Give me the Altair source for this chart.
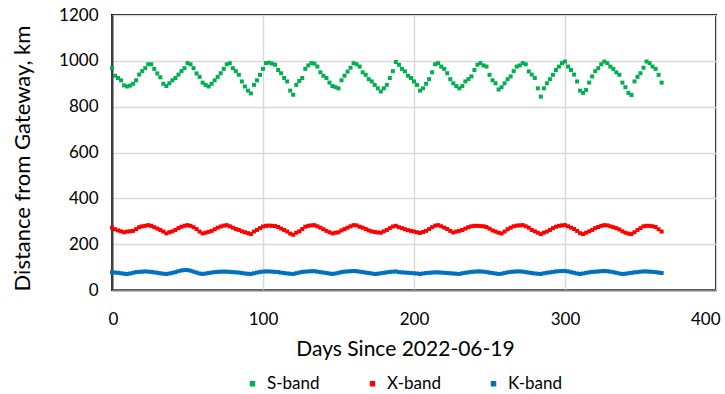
import altair as alt
import pandas as pd

# Days sampled every 2 days from 0 to 364
days = list(range(0, 365, 2))

s_band = [
    968, 935, 925, 915, 893, 888, 892, 900, 915, 940,
    955, 968, 985, 985, 965, 945, 928, 900, 890, 902,
    915, 925, 940, 955, 968, 990, 985, 968, 945, 930,
    905, 895, 888, 900, 915, 930, 946, 965, 985, 990,
    968, 955, 939, 910, 888, 870, 858, 895, 915, 939,
    965, 990, 992, 988, 983, 960, 946, 925, 910, 870,
    852, 895, 912, 925, 965, 980, 990, 988, 975, 950,
    935, 925, 905, 890, 885, 880, 915, 935, 953, 970,
    990, 985, 975, 950, 939, 920, 910, 895, 880, 866,
    880, 895, 925, 955, 995, 983, 965, 954, 935, 925,
    910, 895, 870, 880, 900, 920, 950, 985, 990, 975,
    965, 946, 920, 902, 890, 880, 890, 910, 920, 932,
    960, 983, 990, 980, 975, 939, 915, 902, 875, 885,
    902, 920, 932, 955, 975, 980, 990, 985, 954, 940,
    925, 880, 844, 880, 902, 920, 939, 960, 975, 990,
    997, 975, 960, 940, 910, 870, 860, 873, 905, 932,
    955, 968, 985, 997, 990, 975, 965, 950, 939, 905,
    885, 860, 851, 910, 930, 946, 970, 997, 990, 975,
    965, 939, 905,
]

x_band = [
    272, 265, 260, 256, 252, 255, 256, 258, 266, 274,
    278, 280, 283, 280, 274, 268, 262, 255, 247, 252,
    256, 262, 270, 276, 280, 283, 280, 274, 266, 255,
    247, 250, 254, 258, 265, 272, 277, 281, 283, 278,
    272, 266, 262, 256, 252, 248, 244, 255, 262, 270,
    277, 280, 281, 280, 279, 275, 268, 262, 255, 246,
    241, 250, 256, 266, 276, 280, 282, 283, 278, 272,
    265, 258, 252, 247, 250, 252, 260, 266, 272, 278,
    283, 282, 276, 272, 266, 260, 256, 253, 251, 250,
    256, 262, 270, 277, 280, 274, 270, 265, 261, 258,
    255, 252, 249, 253, 258, 266, 274, 281, 283, 278,
    272, 266, 258, 251, 255, 258, 262, 268, 274, 278,
    280, 280, 279, 278, 275, 268, 260, 255, 250, 247,
    255, 265, 272, 278, 281, 282, 283, 278, 272, 262,
    256, 250, 244, 250, 255, 262, 270, 276, 280, 282,
    283, 278, 272, 266, 258, 248, 244, 250, 256, 262,
    270, 275, 280, 283, 282, 278, 274, 270, 264, 256,
    250, 246, 244, 252, 262, 270, 278, 280, 280, 278,
    275, 265, 255,
]

k_band = [
    77, 76, 75, 73, 71, 70, 72, 75, 78, 79,
    80, 81, 80, 79, 77, 75, 73, 71, 70, 72,
    75, 78, 82, 85, 87, 87, 84, 80, 76, 72,
    70, 72, 74, 76, 78, 79, 80, 80, 80, 79,
    78, 77, 76, 74, 72, 71, 70, 73, 76, 79,
    80, 81, 81, 80, 79, 78, 76, 74, 72, 71,
    70, 73, 76, 79, 80, 81, 82, 82, 80, 78,
    76, 74, 72, 70, 72, 75, 78, 80, 81, 82,
    83, 82, 80, 78, 76, 74, 72, 70, 71, 73,
    75, 77, 79, 80, 81, 78, 77, 76, 75, 74,
    73, 72, 70, 72, 74, 75, 76, 77, 77, 76,
    75, 74, 73, 72, 71, 70, 73, 75, 77, 79,
    80, 81, 81, 80, 78, 76, 74, 72, 70, 71,
    74, 77, 79, 80, 81, 81, 80, 78, 76, 74,
    72, 71, 70, 73, 75, 77, 79, 81, 82, 83,
    83, 81, 78, 75, 72, 70, 72, 75, 77, 79,
    80, 81, 82, 83, 82, 80, 78, 75, 72, 70,
    71, 73, 75, 77, 78, 80, 81, 81, 80, 79,
    78, 76, 74,
]

bands = ["S-band", "X-band", "K-band"]
band_colors = ["#00b050", "#ff0000", "#0070c0"]

rows = []
for name, vals in zip(bands, [s_band, x_band, k_band]):
    for d, v in zip(days, vals):
        rows.append({"day": d, "km": v, "band": name})
df = pd.DataFrame(rows)

FONT = "Lato"

chart = alt.Chart(df).mark_square(size=16, opacity=1).encode(
    x=alt.X(
        "day:Q",
        scale=alt.Scale(domain=[0, 400], nice=False),
        axis=alt.Axis(
            values=[0, 100, 200, 300, 400],
            format="d",
            title="Days Since 2022-06-19",
            titleFontSize=21,
            titleFontWeight="normal",
            titleFont=FONT,
            titleColor="#000000",
            titleX=293,
            titleY=48,
            labelFontSize=17,
            labelFont=FONT,
            labelColor="#000000",
            labelPadding=21,
            labelFlush=True,
            labelFlushOffset=4,
            ticks=False,
            tickSize=0,
            domainColor="#808080",
            domainWidth=2,
            gridColor="#d9d9d9",
            gridWidth=1.5,
        ),
    ),
    y=alt.Y(
        "km:Q",
        scale=alt.Scale(domain=[0, 1200], nice=False),
        axis=alt.Axis(
            values=[0, 200, 400, 600, 800, 1000, 1200],
            format="d",
            title="Distance from Gateway, km",
            titleFontSize=22,
            titleFontWeight="normal",
            titleFont=FONT,
            titleColor="#000000",
            titleX=-78,
            titleY=143,
            labelFontSize=17,
            labelFont=FONT,
            labelColor="#000000",
            labelPadding=14,
            labelFlush=False,
            ticks=False,
            tickSize=0,
            domainColor="#404040",
            domainWidth=2,
            gridColor="#d9d9d9",
            gridWidth=1.5,
        ),
    ),
    color=alt.Color(
        "band:N",
        scale=alt.Scale(domain=bands, range=band_colors),
        legend=alt.Legend(
            title=None,
            orient="none",
            direction="horizontal",
            legendX=132,
            legendY=360,
            symbolType="square",
            symbolSize=30,
            symbolOpacity=1,
            labelFontSize=17,
            labelFont=FONT,
            labelColor="#000000",
            columnPadding=44,
            labelOffset=6,
            padding=0,
        ),
    ),
).properties(
    width=604,
    height=275,
    autosize=alt.AutoSizeParams(type="none"),
    padding={"left": 112, "top": 15, "right": 9, "bottom": 104},
).configure_view(
    stroke="#000000",
    strokeWidth=2,
)

chart.save("out.html", embed_options={"renderer": "svg", "actions": False})
